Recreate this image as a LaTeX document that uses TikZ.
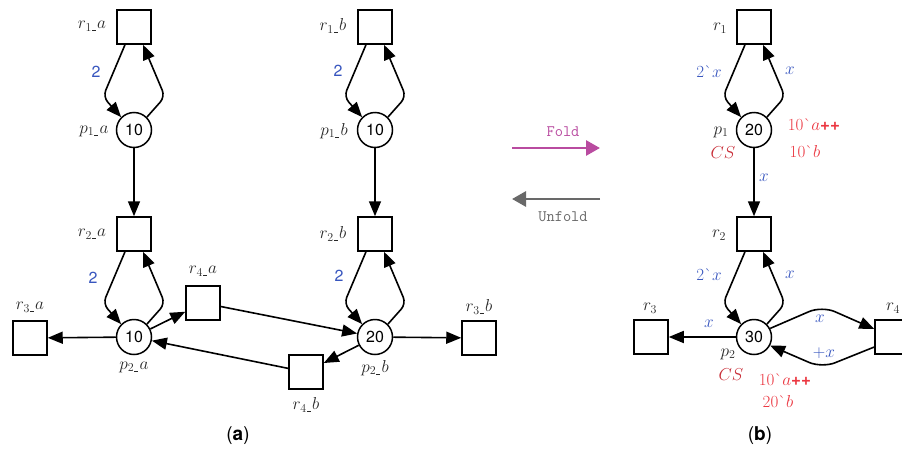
\documentclass[tikz,border=0pt]{standalone}
\usepackage{fontspec}
\setsansfont{TeX Gyre Heros}
\usetikzlibrary{arrows.meta}
\definecolor{lblue}{RGB}{55,85,190}
\definecolor{lred}{RGB}{235,55,65}
\definecolor{dred}{RGB}{200,45,55}
\definecolor{lmag}{RGB}{185,75,160}
\definecolor{lgray}{RGB}{105,105,105}
\definecolor{ltext}{RGB}{40,40,40}
\newcommand\loopedges[2]{%
  \draw[arc] ([xshift=-9pt]#1.south) -- ([xshift=-31pt,yshift=-52pt]#1.south) -- (#2.135);
  \draw[arc] (#2.45) -- ([xshift=31pt,yshift=-52pt]#1.south) -- ([xshift=9pt]#1.south);
}
\newcommand\tk{\`{}}
\newcommand\pp{\textsf{\textbf{++}}}
\newcommand\ul{\mkern1mu\rule{4pt}{0.9pt}\mkern1mu}
\begin{document}
\begin{tikzpicture}[x=1pt,y=-1pt,
  trans/.style={draw, line width=1.5pt, minimum size=34pt, inner sep=0pt},
  place/.style={draw, circle, line width=1.5pt, minimum size=35pt, inner sep=0pt, font=\sffamily\fontsize{16}{18}\selectfont},
  arc/.style={line width=1.6pt, -{Triangle[length=15pt,width=12pt]}, rounded corners=7pt},
  lbl/.style={font=\fontsize{17}{19}\selectfont, text=ltext, inner sep=0pt},
  num/.style={font=\sffamily\fontsize{16}{18}\selectfont, text=lblue, inner sep=0pt},
  inscr/.style={font=\fontsize{17}{19}\selectfont, text=lblue, inner sep=0pt},
  marking/.style={font=\fontsize{17}{19}\selectfont, text=lred, inner sep=0pt},
  capt/.style={font=\sffamily\fontsize{19}{21}\selectfont, inner sep=0pt},
  cmd/.style={font=\ttfamily\fontsize{16}{18}\selectfont, inner sep=0pt}
]
\useasboundingbox (0,0) rectangle (902,453);
% ---------- panel (a)
\node[trans] (r1a) at (134,27) {};
\node[place] (p1a) at (134,130) {10};
\node[trans] (r2a) at (134,234) {};
\node[place] (p2a) at (134,337) {10};
\node[trans] (r3a) at (30,338) {};
\node[trans] (r4a) at (203,303) {};
\node[trans] (r1b) at (375,27) {};
\node[place] (p1b) at (375,130) {10};
\node[trans] (r2b) at (375,234) {};
\node[place] (p2b) at (375,337) {20};
\node[trans] (r3b) at (479,338) {};
\node[trans] (r4b) at (306,372) {};

\loopedges{r1a}{p1a}
\loopedges{r2a}{p2a}
\loopedges{r1b}{p1b}
\loopedges{r2b}{p2b}
\draw[arc] (p1a) -- (r2a);
\draw[arc] (p1b) -- (r2b);
\draw[arc] (p2a) -- (r3a);
\draw[arc] (p2a) -- (r4a);
\draw[arc] (r4a) -- (p2b);
\draw[arc] (p2b) -- (r4b);
\draw[arc] (r4b) -- (p2a);
\draw[arc] (p2b) -- (r3b);

\node[lbl] (lr1a) at (92,26) {$r_{1\ul}a$};
\node[lbl] (lp1a) at (94,131) {$p_{1\ul}a$};
\node[lbl] (lr2a) at (92,234) {$r_{2\ul}a$};
\node[lbl] (lp2a) at (134,367) {$p_{2\ul}a$};
\node[lbl] (lr3a) at (30,307) {$r_{3\ul}a$};
\node[lbl] (lr4a) at (203,271) {$r_{4\ul}a$};
\node[lbl] (lr1b) at (333,26) {$r_{1\ul}b$};
\node[lbl] (lp1b) at (334,131) {$p_{1\ul}b$};
\node[lbl] (lr2b) at (333,234) {$r_{2\ul}b$};
\node[lbl] (lp2b) at (375,368) {$p_{2\ul}b$};
\node[lbl] (lr3b) at (479,307) {$r_{3\ul}b$};
\node[lbl] (lr4b) at (306,405) {$r_{4\ul}b$};
\node[num] (n1) at (96,72) {2};
\node[num] (n2) at (93,278) {2};
\node[num] (n3) at (338,71) {2};
\node[num] (n4) at (339,276) {2};
\node[capt] (capa) at (238,436) {(\textbf{a})};

% ---------- fold / unfold
\coordinate (f1) at (512,148);
\coordinate (f2) at (600,148);
\coordinate (u1) at (600,199);
\coordinate (u2) at (512,199);
\draw[line width=2.8pt, lmag, -{Triangle[length=14pt,width=15pt]}] (f1) -- (f2);
\draw[line width=2.8pt, lgray, -{Triangle[length=14pt,width=15pt]}] (u1) -- (u2);
\node[cmd, text=lmag] (fold) at (563,132) {Fold};
\node[cmd, text=lgray] (unfold) at (563,217) {Unfold};

% ---------- panel (b)
\node[trans] (R1) at (754,27) {};
\node[place] (P1) at (754,130) {20};
\node[trans] (R2) at (754,234) {};
\node[place] (P2) at (754,337) {30};
\node[trans] (R3) at (651,337) {};
\node[trans] (R4) at (892,337) {};
\loopedges{R1}{P1}
\loopedges{R2}{P2}
\draw[arc] (P1) -- (R2);
\draw[arc] (P2) -- (R3);
\draw[arc, rounded corners=14pt] (P2.28) -- (822,306) -- ([yshift=8pt]R4.west);
\draw[arc, rounded corners=14pt] ([yshift=-10pt]R4.west) -- (822,368) -- (P2.-28);

\node[lbl] (lR1) at (720,28) {$r_1$};
\node[lbl] (lP1) at (721,132) {$p_1$};
\node[lbl] (lR2) at (719,235) {$r_2$};
\node[lbl] (lP2) at (728,354) {$p_2$};
\node[lbl] (lR3) at (650,308) {$r_3$};
\node[lbl] (lR4) at (893,308) {$r_4$};
\node[inscr] (i1) at (709,72) {2\tk$x$};
\node[inscr] (i2) at (790,71) {$x$};
\node[inscr] (i3) at (764,178) {$x$};
\node[inscr] (i4) at (709,275) {2\tk$x$};
\node[inscr] (i5) at (790,275) {$x$};
\node[inscr] (i6) at (709,324) {$x$};
\node[inscr] (i7) at (820,319) {$x$};
\node[inscr] (i8) at (824,353) {$+x$};
\node[marking, text=dred] (cs1) at (723,153) {$CS$};
\node[marking] (m1) at (814,125) {10\tk$a$\pp};
\node[marking] (m2) at (805,152) {10\tk$b$};
\node[marking, text=dred] (cs2) at (731,375) {$CS$};
\node[marking] (m3) at (785,380) {10\tk$a$\pp};
\node[marking] (m4) at (778,402) {20\tk$b$};
\node[capt] (capb) at (760,436) {(\textbf{b})};
\end{tikzpicture}
\end{document}
